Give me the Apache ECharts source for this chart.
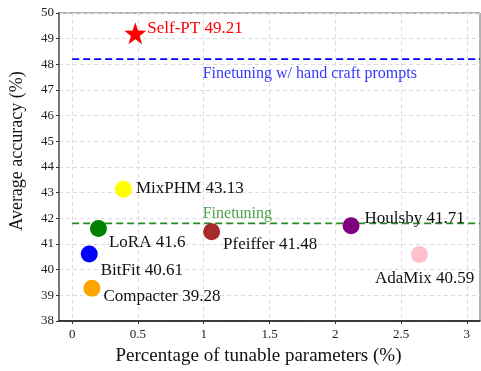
<!DOCTYPE html>
<html>
<head>
<meta charset="utf-8">
<script src="https://cdn.jsdelivr.net/npm/echarts@6/dist/echarts.min.js"></script>
<style>
  html, body { margin: 0; padding: 0; background: #fff; }
  #main { width: 481px; height: 371px; }
</style>
</head>
<body>
<div id="main"></div>
<script>
// methods and their (params %, accuracy %)
let methods = ['Self-PT', 'MixPHM', 'LoRA', 'BitFit', 'Compacter', 'Pfeiffer', 'Houlsby', 'AdaMix']
let params = [0.48, 0.39, 0.2, 0.13, 0.15, 1.06, 2.12, 2.64]
let accuracy = [49.21, 43.13, 41.6, 40.61, 39.28, 41.48, 41.71, 40.59]
let accLabels = ['49.21', '43.13', '41.6', '40.61', '39.28', '41.48', '41.71', '40.59']

// baselines
let handCraftAcc = 48.2
let finetuneAcc = 41.8

let xTicks = [0, 0.5, 1, 1.5, 2, 2.5, 3]

// styles (kept apart from data)
let colors = ['#ff0000', '#ffff00', '#008000', '#0000ff', '#ffa500', '#a52a2a', '#800080', '#ffc0cb']
let labelOffsets = [[-4, -5], [-1, -1], [-3, 14], [-2, 17], [-2, 8], [-2, 13], [0, -7], [-58, 24]]

let serif = 'Liberation Serif'
let chart = echarts.init(document.getElementById('main'), null, { renderer: 'canvas' })

let pointData = methods.map((m, i) => ({
    value: [params[i], accuracy[i]],
    symbol: i === 0 ? 'path://M0,-10 L2.35,-3.24 L9.51,-3.09 L3.8,1.24 L5.88,8.09 L0,4 L-5.88,8.09 L-3.8,1.24 L-9.51,-3.09 L-2.35,-3.24 Z' : 'circle',
    symbolSize: i === 0 ? 22 : 17,
    itemStyle: { color: colors[i], opacity: 1 },
    label: {
        show: true,
        position: 'right',
        offset: labelOffsets[i],
        formatter: m + ' ' + accLabels[i],
        color: i === 0 ? '#ff0000' : '#111',
        fontFamily: serif,
        fontSize: 17
    }
}))

let option = {
    animation: false,
    grid: { left: 58, top: 13, right: 1, bottom: 44, show: true, borderColor: '#666', borderWidth: 1 },
    xAxis: {
        type: 'value',
        min: -0.1,
        max: 3.1,
        name: 'Percentage of tunable parameters (%)',
        nameLocation: 'middle',
        nameGap: 26,
        nameTextStyle: { fontFamily: serif, fontSize: 19, color: '#111', padding: [0, 22, 0, 0] },
        axisLine: { show: true, onZero: false, lineStyle: { color: '#111', width: 1.5 } },
        axisTick: { show: true, length: 3, customValues: xTicks, lineStyle: { color: '#333' } },
        axisLabel: {
            fontFamily: serif, fontSize: 13, color: '#222', margin: 7,
            customValues: xTicks,
            formatter: v => String(v)
        },
        splitLine: { show: true, lineStyle: { color: '#ddd', type: [4, 3] } }
    },
    yAxis: {
        type: 'value',
        min: 38,
        max: 50,
        interval: 1,
        name: 'Average accuracy (%)',
        nameLocation: 'middle',
        nameGap: 33,
        nameTextStyle: { fontFamily: serif, fontSize: 18, color: '#111', padding: [0, 0, 0, 32] },
        axisLine: { show: true, onZero: false, lineStyle: { color: '#777', width: 2 } },
        axisTick: { show: true, length: 3, lineStyle: { color: '#333' } },
        axisLabel: { fontFamily: serif, fontSize: 13, color: '#222', margin: 5 },
        splitLine: { show: true, lineStyle: { color: '#ddd', type: [4, 3] } }
    },
    series: [
        {
            type: 'line',
            data: [[0, handCraftAcc], [3.1, handCraftAcc]],
            symbol: 'none',
            lineStyle: { color: '#0000ff', width: 1.8, type: [7, 4] },
            z: 1
        },
        {
            type: 'line',
            data: [[0, finetuneAcc], [3.1, finetuneAcc]],
            symbol: 'none',
            lineStyle: { color: '#228b22', width: 1.8, type: [7, 4] },
            z: 1
        },
        {
            type: 'scatter',
            data: [
                {
                    value: [1.0, handCraftAcc],
                    label: { show: true, position: 'right', offset: [-6, 15], formatter: 'Finetuning w/ hand craft prompts', color: '#0000ff' }
                },
                {
                    value: [1.0, finetuneAcc],
                    label: { show: true, position: 'right', offset: [-6, -10], formatter: 'Finetuning', color: '#228b22' }
                }
            ],
            symbolSize: 0,
            label: { fontFamily: serif, fontSize: 16 },
            z: 2
        },
        {
            type: 'scatter',
            data: pointData,
            z: 3
        }
    ]
}
chart.setOption(option)
</script>
</body>
</html>
